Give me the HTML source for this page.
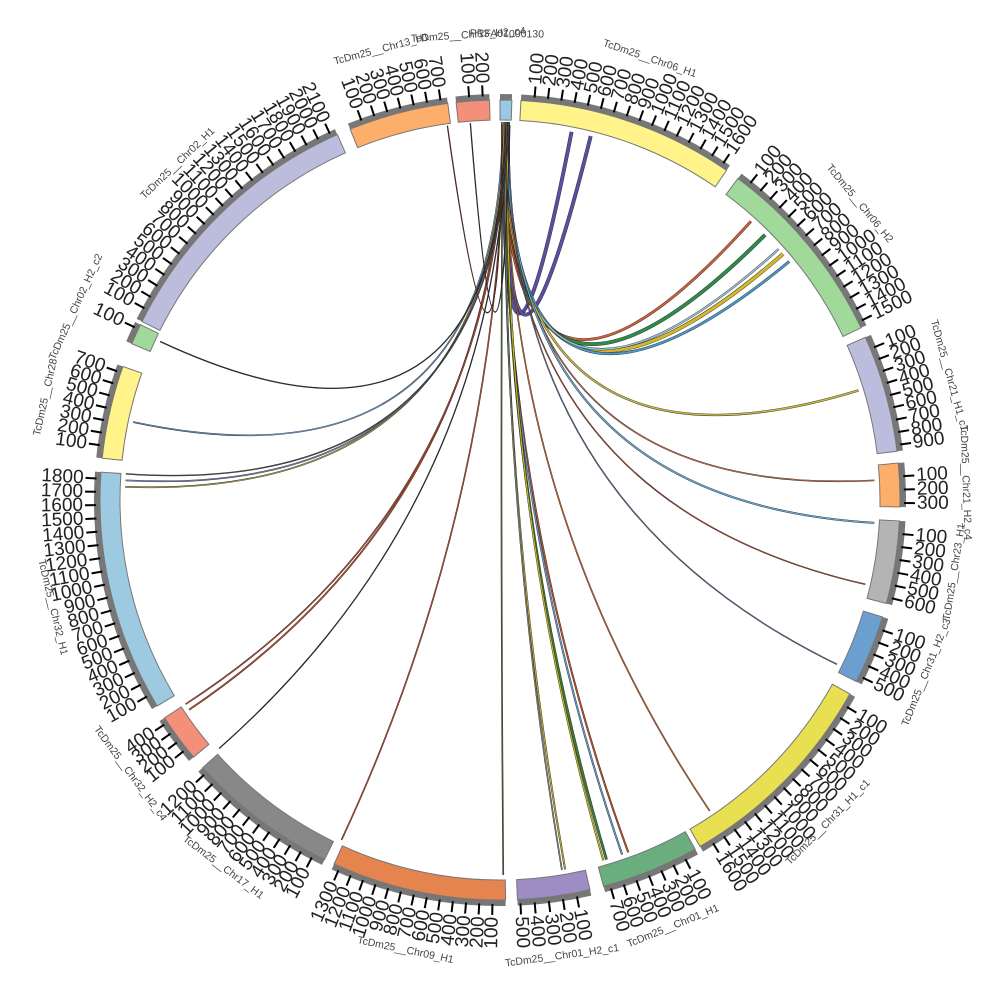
<!DOCTYPE html>
<html><head><meta charset="utf-8">
<style>
html,body{margin:0;padding:0;background:#fff;width:1000px;height:1000px;overflow:hidden}
svg{display:block}
text{font-family:"Liberation Sans",sans-serif}
</style></head>
<body>
<svg id="s" width="1000" height="1000" viewBox="0 0 1000 1000" xmlns="http://www.w3.org/2000/svg">
<g id="links"></g>
<g id="segs"></g>
<g id="labs" fill="#222"></g>
</svg>
<script>
var C=500,R0=380,R1=400,RG=406;
function P(r,a){var t=a*Math.PI/180;return [C+r*Math.sin(t),C-r*Math.cos(t)];}
var segs=[
["PRFA01000130",0,1.7,50,"#99c9e3"],
["TcDm25__Chr06_H1",3,34.5,1650,"#fff38a"],
["TcDm25__Chr06_H2",36.5,64.5,1550,"#a1d99b"],
["TcDm25__Chr21_H1_c1",66,83,950,"#bcbddc"],
["TcDm25__Chr21_H2_c4",84.7,91,330,"#fdae6b"],
["TcDm25__Chr23_H1",93,105,650,"#b4b4b4"],
["TcDm25__Chr31_H2_c3",107,117,550,"#6a9fcf"],
["TcDm25__Chr31_H1_c1",119,150,1700,"#e8e050"],
["TcDm25__Chr01_H1",150.8,165,750,"#6aae80"],
["TcDm25__Chr01_H2_c1",167,177.5,520,"#9e8cc4"],
["TcDm25__Chr09_H1",179.2,204.5,1350,"#e6844f"],
["TcDm25__Chr17_H1",206,228,1250,"#888888"],
["TcDm25__Chr32_H2_c4",230,237,450,"#f4907a"],
["TcDm25__Chr32_H1",239,274,1850,"#9ecae1"],
["TcDm25__Chr28",276,289.5,750,"#fff38a"],
["TcDm25__Chr02_H2_c2",293,296,130,"#a1d99b"],
["TcDm25__Chr02_H1",296.5,336,2150,"#bcbddc"],
["TcDm25__Chr13_H1",338,352.5,750,"#fdae6b"],
["TcDm25__Chr13_H2_c4",353.7,358.5,250,"#f4907a"]
];
function arc(r1,r2,a1,a2){var p1=P(r2,a1),p2=P(r2,a2),p3=P(r1,a2),p4=P(r1,a1);var l=(a2-a1)>180?1:0;
return "M"+p1+" A"+r2+","+r2+" 0 "+l+" 1 "+p2+" L"+p3+" A"+r1+","+r1+" 0 "+l+" 0 "+p4+"Z";}
var sg="",lb="";
segs.forEach(function(s){
 var a1=s[1],a2=s[2],L=s[3];
 sg+='<path d="'+arc(R1,RG,a1,a2)+'" fill="#777"/>';
 sg+='<path d="'+arc(R0,R1,a1,a2)+'" fill="'+s[4]+'" stroke="#777" stroke-width="1"/>';
 for(var v=100;v<L;v+=100){var a=a1+(v/L)*(a2-a1);var q1=P(404,a),q2=P(415,a);
  sg+='<line x1="'+q1[0]+'" y1="'+q1[1]+'" x2="'+q2[0]+'" y2="'+q2[1]+'" stroke="#000" stroke-width="2"/>';
  var t=P(417,a),na=((a%360)+360)%360,rot,anc;
  if(na<=180){rot=na-90;anc="start";}else{rot=na+90;anc="end";}
  lb+='<text x="'+t[0]+'" y="'+t[1]+'" font-size="19" dominant-baseline="central" text-anchor="'+anc+'" transform="rotate('+rot+' '+t[0]+' '+t[1]+')">'+v+'</text>';}
 var m=(a1+a2)/2,nm=((m%360)+360)%360,tp=P(nm>90&&nm<270?460:466,m);
 var rr=(nm>90&&nm<270)?nm-180:nm;
 lb+='<text x="'+tp[0]+'" y="'+tp[1]+'" font-size="10.5" fill="#444" text-anchor="middle" dominant-baseline="central" transform="rotate('+rr+' '+tp[0]+' '+tp[1]+')">'+s[0]+'</text>';
});
document.getElementById("segs").innerHTML=sg;
document.getElementById("labs").innerHTML=lb;
var links=[
[0.6,11,"#5a4fa0",3],[1.2,14,"#5a4fa0",3],[0.4,42,"#d0603a",2],[0.8,45,"#2e8b4a",3],[1.0,49,"#d4b82a",3],[1.3,50.5,"#4a9ac8",2],[0.9,48,"#9cc4d8",1.5],
[0.5,73,"#c8b840",1.5],[0.7,87,"#c87050",0.8],[1.1,93.5,"#6aaad8",1.2],[0.3,103,"#c05030",0.6],[1.4,116,"#6a7aaa",0.6],
[0.9,146,"#d06a30",0.8],[0.5,160,"#c05030",1.2],[0.6,161,"#6a9aca",1.2],[1.0,163.5,"#3a7a3a",2],[1.2,164,"#c8b820",1.2],[0.8,170,"#b8a830",1.2],[0.9,170.5,"#888",0.8],
[0.4,179.5,"#4a6a3a",0.8],[0.7,205,"#c05030",0.8],[1.1,228.5,"#333",0.5],[0.5,236,"#c05030",1],[0.8,237,"#c05030",0.8],
[0.6,272,"#b8a840",0.8],[1.0,273,"#8888bb",0.8],[1.3,274,"#555",0.6],[0.4,282,"#6a9aca",0.8],[0.9,295,"#333",0.5],
[352,0.3,"#7a3020",0.5],[355.5,1.5,"#333",0.5]
];
var lk="";
links.forEach(function(l){var p1=P(378,l[0]),p2=P(375,l[1]);
 var d="M"+p1+" Q"+C+","+C+" "+p2;
 lk+='<path d="'+d+'" fill="none" stroke="#222" stroke-width="'+(l[3]+0.8)+'"/>';
 lk+='<path d="'+d+'" fill="none" stroke="'+l[2]+'" stroke-width="'+l[3]+'"/>';});
document.getElementById("links").innerHTML=lk;
</script>
</body></html>
